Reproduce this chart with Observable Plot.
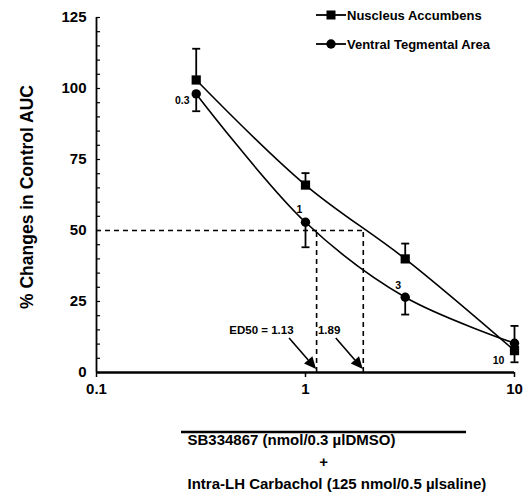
<!DOCTYPE html>
<html><head><meta charset="utf-8">
<script src="https://cdn.jsdelivr.net/npm/d3@7"></script>
<script src="https://cdn.jsdelivr.net/npm/@observablehq/plot@0.6"></script>
<style>
body{margin:0;background:#fff;font-family:"Liberation Sans",Arial,sans-serif;color:#000;}
#wrap{position:relative;width:528px;height:498px;overflow:hidden;}
#wrap svg.plot{position:absolute;left:0;top:0;}
.leg{position:absolute;left:316px;height:16px;display:flex;align-items:center;font-size:13px;font-weight:bold;white-space:nowrap;}
.leg svg{margin-right:1px;}
</style></head><body><div id="wrap"></div>
<script>
// ---- data ----
const doses = [0.3, 1, 3, 10];
const nacMean = [103, 66, 40, 7.7];
const nacErr = [11, 4.2, 5.4, 8.7];
const vtaMean = [98.1, 52.9, 26.5, 10.3];
const vtaErr = [6.1, 8.8, 6.1, 6.7];
const seriesNames = ["Nuscleus Accumbens", "Ventral Tegmental Area"];
const xTicks = [0.1, 1, 10];
const yTicks = [0, 25, 50, 75, 100, 125];
const yMinorTicks = d3.range(0, 126, 5);
const ed50 = [1.13, 1.89];
const ed50Labels = ["ED50 = 1.13", "1.89"];
const pointLabels = ["0.3", "1", "3", "10"];
const yLabel = "% Changes in Control AUC";
const xLabel1 = "SB334867 (nmol/0.3 µlDMSO)";
const xLabel2 = "+";
const xLabel3 = "Intra-LH Carbachol (125 nmol/0.5 µlsaline)";

const nac = doses.map((d, i) => ({dose: d, value: nacMean[i], err: nacErr[i]}));
const vta = doses.map((d, i) => ({dose: d, value: vtaMean[i], err: vtaErr[i], label: pointLabels[i]}));

const capSymbol = {draw(ctx, size) { const r = Math.sqrt(size / Math.PI); ctx.moveTo(-r, 0); ctx.lineTo(r, 0); }};
const font = "Liberation Sans, Arial, sans-serif";
const sw = 1.6;

function vtaLabel(i, dx, dy) {
  return Plot.text(vta, {filter: d => d.label === pointLabels[i], x: "dose", y: "value", text: "label",
    dx, dy, fontSize: 10.5, fontWeight: "bold", fontFamily: font, fill: "black"});
}

const arrows = (index, scales) => {
  const g = d3.create("svg:g");
  for (const e of ed50) {
    const tx = scales.x(e), ty = scales.y(0) - 3;
    const sx = tx - 27, sy = ty - 31;
    const ang = Math.atan2(ty - sy, tx - sx);
    const hl = 12, hw = 5.5;
    const bx = tx - hl * Math.cos(ang), by = ty - hl * Math.sin(ang);
    g.append("line").attr("x1", sx).attr("y1", sy).attr("x2", bx).attr("y2", by)
      .attr("stroke", "black").attr("stroke-width", sw);
    g.append("path").attr("d", `M${tx},${ty}L${bx + hw * Math.sin(ang)},${by - hw * Math.cos(ang)}L${bx - hw * Math.sin(ang)},${by + hw * Math.cos(ang)}Z`)
      .attr("fill", "black");
  }
  return g.node();
};

// horizontal bar above the drug description (below the x axis)
const descRule = (index, scales, values, dim) => {
  const y0 = dim.height - dim.marginBottom;
  return d3.create("svg:line")
    .attr("x1", dim.marginLeft + 85).attr("x2", dim.marginLeft + 370)
    .attr("y1", y0 + 60).attr("y2", y0 + 60)
    .attr("stroke", "black").attr("stroke-width", 2.5).node();
};

const descText = {fontSize: 15, fontWeight: "bold", fontFamily: font, fill: "black", frameAnchor: "bottom-left"};

const plot = Plot.plot({
  width: 528, height: 498,
  marginLeft: 96, marginRight: 14, marginTop: 17, marginBottom: 126,
  style: {fontFamily: font, background: "white", color: "black", overflow: "visible"},
  x: {type: "log", domain: [xTicks[0], xTicks[2]]},
  y: {domain: [yTicks[0], yTicks[yTicks.length - 1]]},
  marks: [
    // dashed ED50 guides
    Plot.ruleY([50], {x1: xTicks[0], x2: ed50[1], stroke: "black", strokeWidth: sw, strokeDasharray: "5,4"}),
    Plot.ruleX(ed50, {y1: 0, y2: 50, stroke: "black", strokeWidth: sw, strokeDasharray: "5,4"}),
    // axes
    Plot.axisY({ticks: yMinorTicks, tickSize: -4, tickFormat: () => "", label: null, strokeWidth: 1.2}),
    Plot.axisY({ticks: yTicks, tickSize: 0, tickPadding: 10, label: null, fontSize: 15, fontWeight: "bold", fontFamily: font, fill: "black"}),
    Plot.axisX({ticks: xTicks, tickSize: 5, tickPadding: 6, tickFormat: d => String(d), label: null, fontSize: 15, fontWeight: "bold", fontFamily: font, strokeWidth: 1.5}),
    Plot.ruleX([xTicks[0]], {stroke: "black", strokeWidth: 1.8}),
    Plot.ruleY([0], {stroke: "black", strokeWidth: 2.4}),
    Plot.text([yLabel], {frameAnchor: "left", textAnchor: "middle", rotate: -90, dx: -69, dy: 2, fontSize: 17.5, fontWeight: "bold", fontFamily: font, fill: "black"}),
    // curves
    Plot.line(nac, {x: "dose", y: "value", curve: "catmull-rom", stroke: "black", strokeWidth: sw}),
    Plot.line(vta, {x: "dose", y: "value", curve: "catmull-rom", stroke: "black", strokeWidth: sw}),
    // error bars
    Plot.ruleX(nac, {x: "dose", y1: "value", y2: d => d.value + d.err, stroke: "black", strokeWidth: 1.8}),
    Plot.dot(nac, {x: "dose", y: d => d.value + d.err, symbol: capSymbol, r: 4, stroke: "black", strokeWidth: 1.8, fill: "none"}),
    Plot.ruleX(vta, {x: "dose", y1: d => d.value - d.err, y2: "value", stroke: "black", strokeWidth: 1.8}),
    Plot.dot(vta, {x: "dose", y: d => d.value - d.err, symbol: capSymbol, r: 4, stroke: "black", strokeWidth: 1.8, fill: "none"}),
    // markers
    Plot.dot(nac, {x: "dose", y: "value", symbol: "square", r: 5.2, fill: "black", stroke: "none"}),
    Plot.dot(vta, {x: "dose", y: "value", symbol: "circle", r: 4.7, fill: "black", stroke: "none"}),
    // point labels
    vtaLabel(0, -14, 7),
    vtaLabel(1, -6, -13),
    vtaLabel(2, -7, -12),
    vtaLabel(3, -16, 17),
    // ED50 annotations
    Plot.text(ed50Labels, {x: (d, i) => ed50[i], y: 0, text: d => d, textAnchor: "end", dx: -23, dy: -42, fontSize: 11.5, fontWeight: "bold", fontFamily: font, fill: "black"}),
    arrows,
    // drug description below the axis
    descRule,
    Plot.text([xLabel1], {...descText, textAnchor: "start", dx: 91, dy: 72}),
    Plot.text([xLabel2], {...descText, textAnchor: "middle", dx: 227, dy: 94}),
    Plot.text([xLabel3], {...descText, textAnchor: "start", dx: 91, dy: 116})
  ]
});
plot.classList.add("plot");
const wrap = document.getElementById("wrap");
wrap.appendChild(plot);

// legend
function legendRow(name, symbol, top) {
  const div = document.createElement("div");
  div.className = "leg";
  div.style.top = top + "px";
  const mark = symbol === "square"
    ? '<rect x="10.5" y="3.5" width="9" height="9" fill="#000"/>'
    : '<circle cx="15" cy="8" r="4.7" fill="#000"/>';
  div.innerHTML = `<svg width="30" height="16"><line x1="0" y1="8" x2="30" y2="8" stroke="#000" stroke-width="1.8"/>${mark}</svg><span></span>`;
  div.querySelector("span").textContent = name;
  wrap.appendChild(div);
}
legendRow(seriesNames[0], "square", 7);
legendRow(seriesNames[1], "circle", 36);
</script></body></html>
